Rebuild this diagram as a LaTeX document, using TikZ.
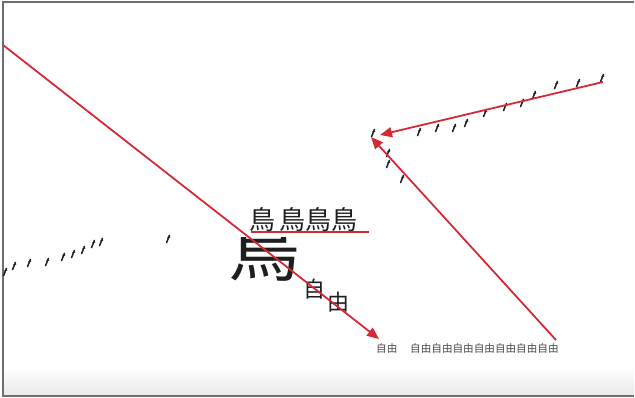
\documentclass[tikz,border=0pt]{standalone}
\usepackage{fontspec}
\newfontfamily\cjk{Noto Sans CJK JP}
\usetikzlibrary{arrows.meta, positioning}
\definecolor{cred}{HTML}{D52A36}
\definecolor{cink}{HTML}{1E1E1E}
\definecolor{cgrey}{HTML}{4A4A4A}
\definecolor{cframe}{HTML}{6E6E6E}
\tikzset{
  every picture/.style={x=1pt, y=-1pt},
  txt/.style={font=\cjk, text=cink, inner sep=0pt},
  small/.style={font=\cjk\fontsize{10.6}{10.6}\selectfont, text=cgrey, inner sep=0pt},
  arrow/.style={-{Triangle[length=12pt, width=10pt]}, draw=cred, line width=1.8pt},
  bird/.pic={\draw[cink, line width=1.5pt, line cap=round] (-1.4,3.6) -- (1.4,-3.6); \draw[cink, line width=0.9pt] (-0.6,-1.2) -- (2.2,-1.9);},
}

\begin{document}
\begin{tikzpicture}
  \useasboundingbox (0,0) rectangle (635,398);
  % frame of the screen
  \shade[top color=white, bottom color=black!9] (3,368) rectangle (634,396);
  \draw[cframe, line width=1.2pt] (634,2) -- (3,2) -- (3,396) -- (634,396);
  % birds
  \foreach \bx/\by in {5/272, 14/266, 29/263, 47/262, 63/257, 73/254, 83/250, 93/244, 101/242, 168/239,
    602/78, 578/83, 556/85, 534/95, 522/103, 505/107, 485/113, 466/123, 454/128, 437/128, 419/132,
    373/133, 388/153, 388/164, 402/179}
    \pic at (\bx,\by) {bird};
  % big morphing bird character
  \begin{scope}
    \clip (200,238) rectangle (302,300);
    \node[txt, font=\cjk\fontsize{72}{72}\selectfont] (big) at (264,248) {鳥};
  \end{scope}
  \node[txt, font=\cjk\fontsize{26}{26}\selectfont, anchor=west] (birds) at (249,220) {鳥\,鳥鳥鳥};
  \node[txt, font=\cjk\fontsize{22}{22}\selectfont] (zi) at (314,289) {自};
  \node[txt, font=\cjk\fontsize{22}{22}\selectfont] (you) at (338,302) {由};
  \node[small, anchor=west] (free1) at (376,348) {自由};
  \node[small, anchor=west] (free2) at (410,348) {自由自由自由自由自由自由自由};
  % motion paths
  \coordinate (s1) at (3,45); \coordinate (t1) at (379,339);
  \coordinate (s2) at (556,340); \coordinate (t2) at (371,137);
  \coordinate (s3) at (603,82); \coordinate (t3) at (380,135);
  \draw[arrow] (s1) -- (t1);
  \draw[arrow] (s2) -- (t2);
  \draw[arrow] (s3) -- (t3);
  \draw[cred, line width=1.8pt] (birds.south west) ++(2,0) -- ++(118,0);
\end{tikzpicture}
\end{document}
